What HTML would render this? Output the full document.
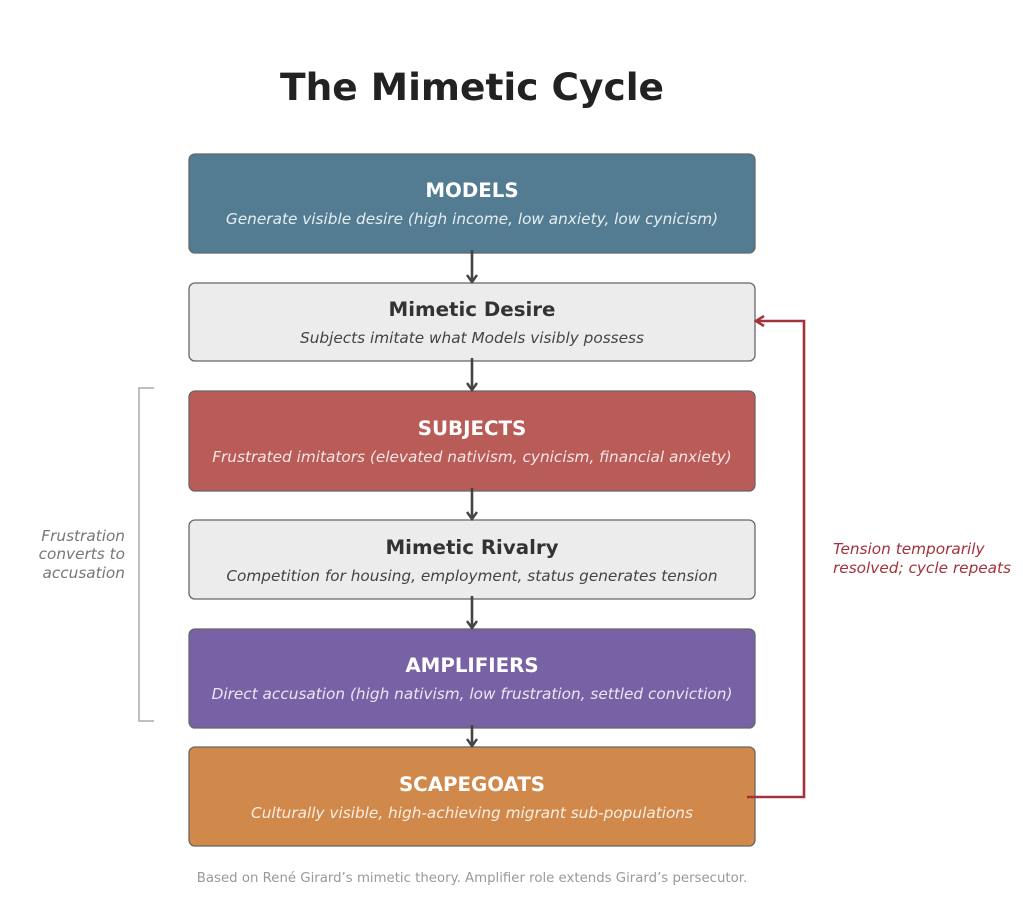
<!DOCTYPE html>
<html><head><meta charset="utf-8"><style>body{margin:0;background:#fff}svg{display:block}</style></head>
<body>
<svg width="1023" height="919" viewBox="0 0 1023 919" xmlns="http://www.w3.org/2000/svg" font-family="DejaVu Sans, Liberation Sans, sans-serif">
<defs>
<marker id="a" markerWidth="12" markerHeight="12" refX="9" refY="6" orient="auto" markerUnits="userSpaceOnUse"><path d="M2,1 L9,6 L2,11" fill="none" stroke="#444" stroke-width="2.4"/></marker>
<marker id="r" markerWidth="14" markerHeight="14" refX="11" refY="7" orient="auto" markerUnits="userSpaceOnUse"><path d="M3,2 L11,7 L3,12" fill="none" stroke="#a4323a" stroke-width="2.6"/></marker>
</defs>
<text x="472" y="100" text-anchor="middle" font-size="37.5" font-weight="bold" fill="#222">The Mimetic Cycle</text>
<g stroke="#666" stroke-width="1.3">
<rect x="189" y="154" width="566" height="99" rx="6" fill="#537c93"/>
<rect x="189" y="283" width="566" height="78" rx="6" fill="#ececec"/>
<rect x="189" y="391" width="566" height="100" rx="6" fill="#b95b57"/>
<rect x="189" y="520" width="566" height="79" rx="6" fill="#ececec"/>
<rect x="189" y="629" width="566" height="99" rx="6" fill="#7862a5"/>
<rect x="189" y="747" width="566" height="99" rx="6" fill="#d0894b"/>
</g>
<g text-anchor="middle">
<text x="472" y="197" font-size="19.8" font-weight="bold" fill="#fff">MODELS</text>
<text x="472" y="224" font-size="15.3" font-style="italic" fill="#e6eef2">Generate visible desire (high income, low anxiety, low cynicism)</text>
<text x="472" y="316" font-size="19.8" font-weight="bold" fill="#333">Mimetic Desire</text>
<text x="472" y="343" font-size="15.3" font-style="italic" fill="#444">Subjects imitate what Models visibly possess</text>
<text x="472" y="435" font-size="19.8" font-weight="bold" fill="#fff">SUBJECTS</text>
<text x="472" y="462" font-size="15.3" font-style="italic" fill="#f7e6e5">Frustrated imitators (elevated nativism, cynicism, financial anxiety)</text>
<text x="472" y="554" font-size="19.8" font-weight="bold" fill="#333">Mimetic Rivalry</text>
<text x="472" y="581" font-size="15.3" font-style="italic" fill="#444">Competition for housing, employment, status generates tension</text>
<text x="472" y="672" font-size="19.8" font-weight="bold" fill="#fff">AMPLIFIERS</text>
<text x="472" y="699" font-size="15.3" font-style="italic" fill="#ece6f4">Direct accusation (high nativism, low frustration, settled conviction)</text>
<text x="472" y="791" font-size="19.8" font-weight="bold" fill="#fff">SCAPEGOATS</text>
<text x="472" y="818" font-size="15.3" font-style="italic" fill="#fbeee2">Culturally visible, high-achieving migrant sub-populations</text>
<text x="472" y="882" font-size="13.3" fill="#999">Based on René Girard’s mimetic theory. Amplifier role extends Girard’s persecutor.</text>
</g>
<g stroke="#444" stroke-width="2.6" marker-end="url(#a)">
<line x1="472" y1="250" x2="472" y2="282"/>
<line x1="472" y1="358" x2="472" y2="390"/>
<line x1="472" y1="488" x2="472" y2="519"/>
<line x1="472" y1="596" x2="472" y2="628"/>
<line x1="472" y1="725" x2="472" y2="746"/>
</g>
<polyline points="747,797 804,797 804,321 756,321" fill="none" stroke="#a4323a" stroke-width="2.6" marker-end="url(#r)"/>
<polyline points="154,388 139,388 139,721 154,721" fill="none" stroke="#aaa" stroke-width="1.5"/>
<g font-size="15.3" font-style="italic" fill="#777" text-anchor="end">
<text x="125" y="541">Frustration</text>
<text x="125" y="559">converts to</text>
<text x="125" y="578">accusation</text>
</g>
<g font-size="15.3" font-style="italic" fill="#a4323a">
<text x="833" y="554">Tension temporarily</text>
<text x="833" y="573">resolved; cycle repeats</text>
</g>
</svg>
</body></html>
